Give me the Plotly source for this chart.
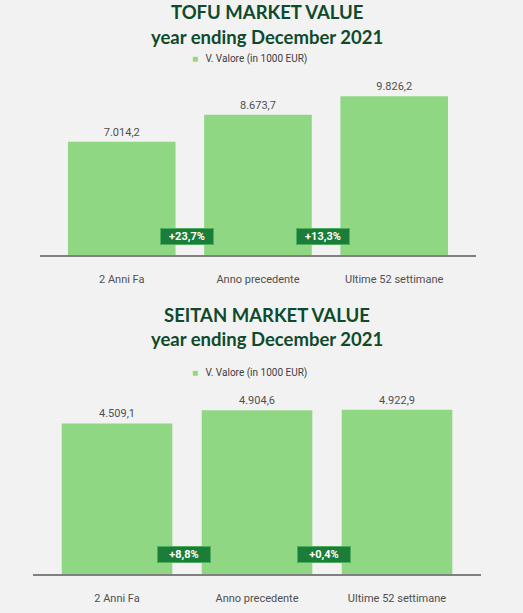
# grafico valore di mercato tofu / seitan
import plotly.graph_objects as go

# ==================================================
# Dati
# ==================================================
categorie = ["2 Anni Fa", "Anno precedente", "Ultime 52 settimane"]
valori_tofu = [7014.2, 8673.7, 9826.2]
valori_seitan = [4509.1, 4904.6, 4922.9]
var_tofu = ["+23,7%", "+13,3%"]
var_seitan = ["+8,8%", "+0,4%"]

titoli_tofu = ["TOFU MARKET VALUE", "year ending December 2021"]
titoli_seitan = ["SEITAN MARKET VALUE", "year ending December 2021"]
nome_serie = "V. Valore (in 1000 EUR)"

VERDE_BARRE = "#8fd783"
VERDE_BOX = "#1b7d3a"
VERDE_TITOLO = "#0f4a2c"
GRIGIO_TESTO = "#404040"
SFONDO = "#f2f2f2"

fig = go.Figure()

# -------------------------
# Barre
# -------------------------
for valori, xa, ya in [(valori_tofu, "x", "y"), (valori_seitan, "x2", "y2")]:
    fig.add_trace(go.Bar(
        x=categorie,
        y=valori,
        xaxis=xa,
        yaxis=ya,
        width=0.79,
        marker=dict(color=VERDE_BARRE, line=dict(width=0)),
        texttemplate="%{y:,.1f}",
        textposition="outside",
        textfont=dict(family="Roboto", size=11, color="#505050"),
        cliponaxis=False,
        name=nome_serie,
        showlegend=False,
        hoverinfo="skip",
    ))

asse_x = dict(
    type="category",
    range=[-0.6, 2.6],
    showline=True,
    linecolor="#808080",
    linewidth=2,
    showgrid=False,
    ticks="",
    ticklabelstandoff=13,
    tickfont=dict(family="Roboto", size=11, color="#505050"),
)
asse_y = dict(visible=False, showgrid=False, zeroline=False)

fig.update_layout(
    width=523,
    height=613,
    margin=dict(l=0, r=0, t=0, b=0),
    paper_bgcolor=SFONDO,
    plot_bgcolor=SFONDO,
    separators=",.",
    bargap=0.21,
    xaxis=dict(asse_x, domain=[0.0765, 0.910], anchor="y"),
    yaxis=dict(asse_y, domain=[0.584, 0.874], range=[0, 11000], anchor="x"),
    xaxis2=dict(asse_x, domain=[0.0631, 0.9197], anchor="y2"),
    yaxis2=dict(asse_y, domain=[0.0636, 0.374], range=[0, 5700], anchor="x2"),
)

# -------------------------
# Titoli e legende (posizioni in pixel dall'alto)
# -------------------------
for righe, y_righe, y_leg in [(titoli_tofu, (12, 37), 59), (titoli_seitan, (315, 339), 373)]:
    for riga, y_px in zip(righe, y_righe):
        fig.add_annotation(
            text=f"<b>{riga}</b>",
            xref="paper", yref="paper", x=0.51, y=1 - y_px / 613,
            xanchor="center", yanchor="middle",
            showarrow=False,
            font=dict(family="Lato", size=18.5, color=VERDE_TITOLO),
        )
    fig.add_annotation(
        text=f"<span style='color:{VERDE_BARRE}'>■</span>   {nome_serie}",
        xref="paper", yref="paper", x=0.478, y=1 - y_leg / 613,
        xanchor="center", yanchor="middle",
        showarrow=False,
        font=dict(family="Roboto", size=10, color=GRIGIO_TESTO),
    )

# -------------------------
# Box variazione %
# -------------------------
for variazioni, xa, ya, y_box in [(var_tofu, "x", "y", 1170), (var_seitan, "x2", "y2", 570)]:
    for i, testo in enumerate(variazioni):
        fig.add_annotation(
            text=f"<b>{testo}</b>",
            xref=xa, yref=ya, x=i + 0.48, y=y_box,
            xanchor="center", yanchor="middle",
            showarrow=False,
            width=50, height=13,
            bgcolor=VERDE_BOX,
            bordercolor="#4fae5c",
            borderwidth=1,
            borderpad=1,
            font=dict(family="Roboto", size=11, color="white"),
        )

# niente margine della pagina: la figura riempie la finestra
fig.write_html(
    "out.html",
    config={"displayModeBar": False},
    post_script="document.body.style.margin='0';",
)
